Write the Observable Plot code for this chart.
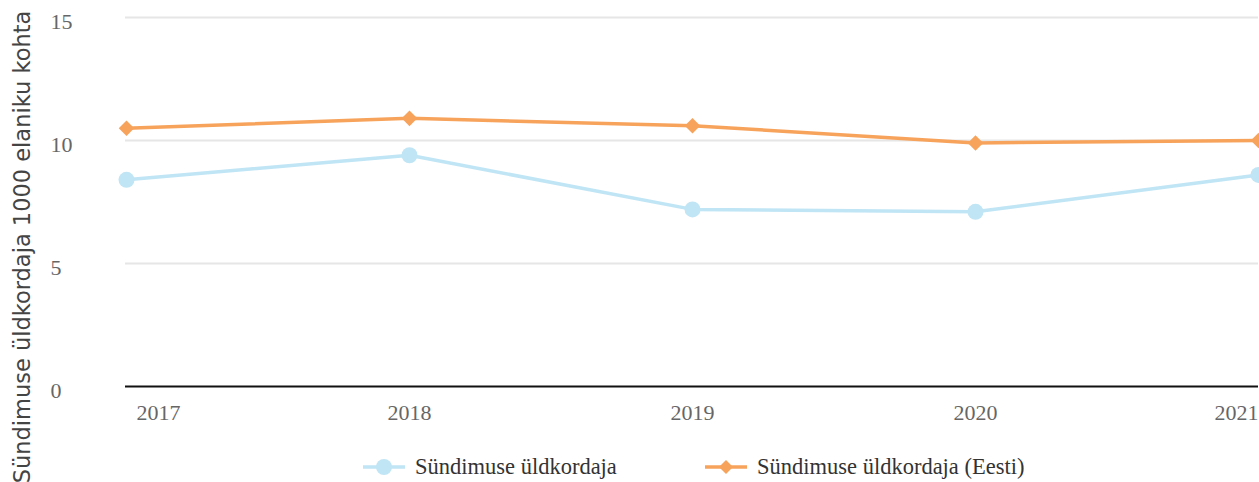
<!DOCTYPE html>
<html><head><meta charset="utf-8">
<script src="https://cdn.jsdelivr.net/npm/d3@7"></script>
<script src="https://cdn.jsdelivr.net/npm/@observablehq/plot@0.6"></script>
<style>
body{margin:0;background:#fff;}
#wrap{position:relative;width:1259px;height:482px;overflow:hidden;}
#legend{position:absolute;left:0;top:452px;width:1259px;height:30px;font-family:"Liberation Serif","Times New Roman",serif;font-size:22.5px;color:#333;}
.item{position:absolute;top:0;height:30px;display:flex;align-items:center;white-space:nowrap;}
.item svg{margin-right:10px;}
</style></head>
<body><div id="wrap"><div id="legend"></div></div>
<script>
const years = [2017, 2018, 2019, 2020, 2021];
const localRate = [8.4, 9.4, 7.2, 7.1, 8.6];
const estoniaRate = [10.5, 10.9, 10.6, 9.9, 10.0];
const seriesNames = ["Sündimuse üldkordaja", "Sündimuse üldkordaja (Eesti)"];
const seriesColors = ["#c0e5f5", "#f7a35c"];
const yTicks = [0, 5, 10, 15];
const gridTicks = [5, 10, 15];
const yLabel = "Sündimuse üldkordaja 1000 elaniku kohta";

const localData = years.map((y, i) => ({year: y, value: localRate[i]}));
const estData = years.map((y, i) => ({year: y, value: estoniaRate[i]}));
const serif = '"Liberation Serif","Times New Roman",serif';

const chart = Plot.plot({
  width: 1259,
  height: 482,
  marginLeft: 125,
  marginRight: 1,
  marginTop: 17,
  marginBottom: 96,
  style: {background: "#fff", overflow: "visible"},
  x: {type: "point", domain: years, padding: 0, axis: null},
  y: {domain: [0, 15], axis: null},
  marks: [
    Plot.ruleY(gridTicks, {stroke: "#e6e6e6", strokeWidth: 2}),
    Plot.ruleY([0], {stroke: "#111", strokeWidth: 2}),
    Plot.text(yTicks, {y: d => d, text: d => String(d), frameAnchor: "left", textAnchor: "start", dx: -75, dy: 4, fontSize: 22, fontFamily: serif, fill: "#666"}),
    Plot.text(years.slice(0, 1), {x: d => d, text: d => String(d), frameAnchor: "bottom", textAnchor: "start", dx: 10, dy: 33, fontSize: 22, fontFamily: serif, fill: "#666"}),
    Plot.text(years.slice(1, -1), {x: d => d, text: d => String(d), frameAnchor: "bottom", textAnchor: "middle", dy: 33, fontSize: 22, fontFamily: serif, fill: "#666"}),
    Plot.text(years.slice(-1), {x: d => d, text: d => String(d), frameAnchor: "bottom", textAnchor: "end", dx: 0, dy: 33, fontSize: 22, fontFamily: serif, fill: "#666"}),
    Plot.text([yLabel], {text: d => d, frameAnchor: "left", textAnchor: "middle", rotate: -90, dx: -103, dy: 45, fontSize: 22.5, fontFamily: '"DejaVu Sans",sans-serif', fill: "#444"}),
    Plot.line(localData, {x: "year", y: "value", stroke: seriesColors[0], strokeWidth: 3.5}),
    Plot.dot(localData, {x: "year", y: "value", fill: seriesColors[0], r: 8, symbol: "circle"}),
    Plot.line(estData, {x: "year", y: "value", stroke: seriesColors[1], strokeWidth: 3.5}),
    Plot.dot(estData, {x: "year", y: "value", fill: seriesColors[1], r: 7, symbol: "diamond2"})
  ]
});
document.getElementById("wrap").prepend(chart);

const legend = document.getElementById("legend");
const legendLeft = [363, 705];
seriesNames.forEach((name, i) => {
  const div = document.createElement("div");
  div.className = "item";
  div.style.left = legendLeft[i] + "px";
  const marker = i === 0
    ? `<circle cx="21" cy="15" r="8" fill="${seriesColors[i]}"/>`
    : `<path d="M21 8 L28 15 L21 22 L14 15Z" fill="${seriesColors[i]}"/>`;
  div.innerHTML = `<svg width="42" height="30"><line x1="0" x2="42" y1="15" y2="15" stroke="${seriesColors[i]}" stroke-width="3.5"/>${marker}</svg><span>${name}</span>`;
  legend.appendChild(div);
});
</script>
</body></html>
